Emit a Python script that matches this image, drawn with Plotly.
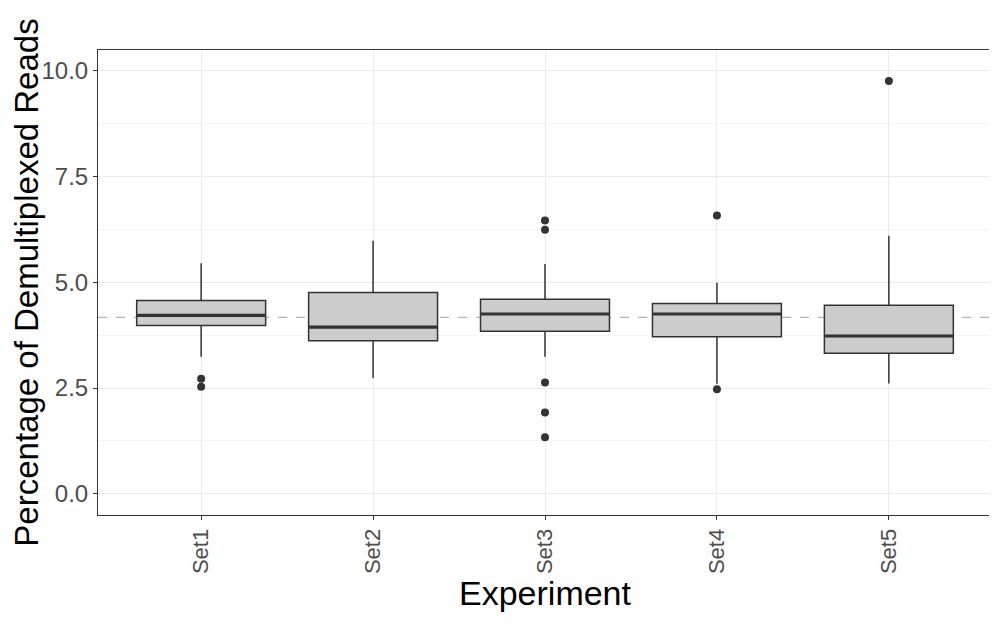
import plotly.graph_objects as go

categories = ["Set1", "Set2", "Set3", "Set4", "Set5"]
q1 = [3.98, 3.62, 3.84, 3.71, 3.32]
median = [4.22, 3.94, 4.25, 4.25, 3.73]
q3 = [4.57, 4.76, 4.60, 4.50, 4.46]
lower_whisker = [3.24, 2.74, 3.24, 2.60, 2.61]
upper_whisker = [5.45, 5.98, 5.43, 4.99, 6.10]
outlier_set = ["Set1", "Set1", "Set3", "Set3", "Set3", "Set3", "Set3", "Set4", "Set4", "Set5"]
outlier_val = [2.72, 2.53, 6.46, 6.24, 2.63, 1.92, 1.34, 6.58, 2.47, 9.76]
overall_mean = 4.17
y_ticks = [0.0, 2.5, 5.0, 7.5, 10.0]

BOX_W = 0.75
DARK = "#333333"
FONT = "Liberation Sans"

pos = list(range(len(categories)))
fig = go.Figure()
for i, c in enumerate(categories):
    fig.add_trace(go.Box(
        x=[i], q1=[q1[i]], median=[median[i]], q3=[q3[i]],
        lowerfence=[lower_whisker[i]], upperfence=[upper_whisker[i]],
        width=BOX_W, whiskerwidth=0, fillcolor="#CCCCCC", line=dict(color=DARK, width=1.5),
        boxpoints=False, showlegend=False, name=c, hoverinfo="skip"))
    fig.add_shape(type="line", x0=i - BOX_W / 2, x1=i + BOX_W / 2,
                  y0=median[i], y1=median[i], line=dict(color=DARK, width=3.2),
                  layer="above")

ox = [categories.index(s) for s in outlier_set]
fig.add_trace(go.Scatter(x=ox, y=outlier_val, mode="markers",
                         marker=dict(color=DARK, size=8), showlegend=False))

fig.add_shape(type="line", xref="paper", x0=0, x1=1, y0=overall_mean, y1=overall_mean,
              line=dict(color="#B3B3B3", width=1.2, dash="dash"), layer="between")

fig.update_layout(
    width=997, height=624,
    margin=dict(l=90, r=13, t=42, b=117),
    paper_bgcolor="white", plot_bgcolor="white",
    font=dict(family=FONT),
    xaxis=dict(
        range=[-0.6, 4.6], tickvals=pos, ticktext=categories, tickangle=-90,
        tickfont=dict(size=22, color="#4D4D4D", family=FONT),
        showgrid=True, gridcolor="#EBEBEB", gridwidth=1.2, zeroline=False,
        showline=True, mirror=True, linecolor=DARK, linewidth=1,
        ticks="outside", ticklen=4, tickcolor=DARK, automargin=False,
        title=dict(text="Experiment", font=dict(size=34, color="black", family=FONT), standoff=4),
    ),
    yaxis=dict(
        range=[-0.5, 10.49], tickvals=y_ticks, ticktext=[f"{v:.1f}" for v in y_ticks],
        tickfont=dict(size=24, color="#4D4D4D", family=FONT),
        showgrid=True, gridcolor="#EBEBEB", gridwidth=1.2, zeroline=False,
        minor=dict(tickvals=[1.25, 3.75, 6.25, 8.75], showgrid=True, gridcolor="#F4F4F4", gridwidth=1, ticks=""),
        showline=True, mirror=True, linecolor=DARK, linewidth=1,
        ticks="outside", ticklen=4, tickcolor=DARK, automargin=False,
        title=dict(text="Percentage of Demultiplexed Reads", font=dict(size=33, color="black", family=FONT), standoff=2),
    ),
)

fig.write_html("out.html")
